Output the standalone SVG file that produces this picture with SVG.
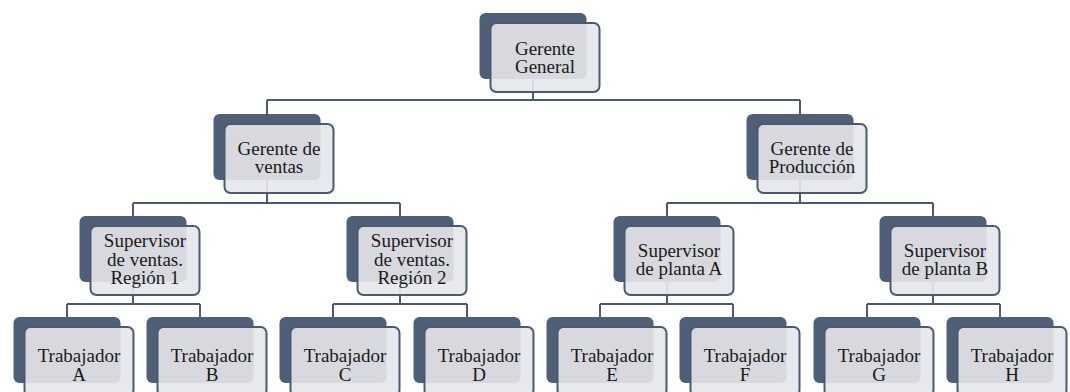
<svg xmlns="http://www.w3.org/2000/svg" width="1070" height="392" viewBox="0 0 1070 392">
<style>
.bg{fill:#ffffff}
.back{fill:#4f5f78}
.front{fill:#e6e7ea;fill-opacity:0.9;stroke:#4b5a70;stroke-width:2}
.conn{fill:none;stroke:#4b5a70;stroke-width:2}
text{font-family:"Liberation Serif","Times New Roman",serif;font-size:19px;fill:#1a1a1a;text-anchor:middle}
</style>
<rect class="bg" x="0" y="0" width="1070" height="392"/>
<g id="connectors">
<path class="conn" d="M533 80V100M267 100H800M267 100V114M800 100V114"/>
<path class="conn" d="M267 180V203M133 203H400M133 203V216M400 203V216"/>
<path class="conn" d="M800 180V203M667 203H933M667 203V216M933 203V216"/>
<path class="conn" d="M133 282V304M67 304H200M67 304V317M200 304V317"/>
<path class="conn" d="M400 282V304M333 304H467M333 304V317M467 304V317"/>
<path class="conn" d="M667 282V304M600 304H733M600 304V317M733 304V317"/>
<path class="conn" d="M933 282V304M867 304H1000M867 304V317M1000 304V317"/>
</g>
<g id="gerente-general">
<rect class="back" x="479.5" y="13" width="107" height="66" rx="6"/>
<rect class="front" x="490.5" y="23" width="109" height="69" rx="6"/>
<text x="545" y="55">Gerente</text><text x="545" y="73">General</text>
</g>
<g id="gerente-ventas">
<rect class="back" x="213.5" y="114" width="107" height="66" rx="6"/>
<rect class="front" x="224.5" y="124" width="109" height="69" rx="6"/>
<text x="279" y="155">Gerente de</text><text x="279" y="173">ventas</text>
</g>
<g id="gerente-produccion">
<rect class="back" x="746.5" y="114" width="107" height="66" rx="6"/>
<rect class="front" x="757.5" y="124" width="109" height="69" rx="6"/>
<text x="812" y="155">Gerente de</text><text x="812" y="173">Producción</text>
</g>
<g id="supervisor-region1">
<rect class="back" x="79.5" y="216" width="107" height="66" rx="6"/>
<rect class="front" x="90.5" y="226" width="109" height="69" rx="6"/>
<text x="145" y="247">Supervisor</text><text x="145" y="266">de ventas.</text><text x="145" y="284">Región 1</text>
</g>
<g id="supervisor-region2">
<rect class="back" x="346.5" y="216" width="107" height="66" rx="6"/>
<rect class="front" x="357.5" y="226" width="109" height="69" rx="6"/>
<text x="412" y="247">Supervisor</text><text x="412" y="266">de ventas.</text><text x="412" y="284">Región 2</text>
</g>
<g id="supervisor-planta-a">
<rect class="back" x="613.5" y="216" width="107" height="66" rx="6"/>
<rect class="front" x="624.5" y="226" width="109" height="69" rx="6"/>
<text x="679" y="257">Supervisor</text><text x="679" y="275">de planta A</text>
</g>
<g id="supervisor-planta-b">
<rect class="back" x="879.5" y="216" width="107" height="66" rx="6"/>
<rect class="front" x="890.5" y="226" width="109" height="69" rx="6"/>
<text x="945" y="257">Supervisor</text><text x="945" y="275">de planta B</text>
</g>
<g id="trabajador-a">
<rect class="back" x="13.5" y="317" width="107" height="66" rx="6"/>
<rect class="front" x="24.5" y="327" width="109" height="69" rx="6"/>
<text x="79" y="362">Trabajador</text><text x="79" y="381">A</text>
</g>
<g id="trabajador-b">
<rect class="back" x="146.5" y="317" width="107" height="66" rx="6"/>
<rect class="front" x="157.5" y="327" width="109" height="69" rx="6"/>
<text x="212" y="362">Trabajador</text><text x="212" y="381">B</text>
</g>
<g id="trabajador-c">
<rect class="back" x="279.5" y="317" width="107" height="66" rx="6"/>
<rect class="front" x="290.5" y="327" width="109" height="69" rx="6"/>
<text x="345" y="362">Trabajador</text><text x="345" y="381">C</text>
</g>
<g id="trabajador-d">
<rect class="back" x="413.5" y="317" width="107" height="66" rx="6"/>
<rect class="front" x="424.5" y="327" width="109" height="69" rx="6"/>
<text x="479" y="362">Trabajador</text><text x="479" y="381">D</text>
</g>
<g id="trabajador-e">
<rect class="back" x="546.5" y="317" width="107" height="66" rx="6"/>
<rect class="front" x="557.5" y="327" width="109" height="69" rx="6"/>
<text x="612" y="362">Trabajador</text><text x="612" y="381">E</text>
</g>
<g id="trabajador-f">
<rect class="back" x="679.5" y="317" width="107" height="66" rx="6"/>
<rect class="front" x="690.5" y="327" width="109" height="69" rx="6"/>
<text x="745" y="362">Trabajador</text><text x="745" y="381">F</text>
</g>
<g id="trabajador-g">
<rect class="back" x="813.5" y="317" width="107" height="66" rx="6"/>
<rect class="front" x="824.5" y="327" width="109" height="69" rx="6"/>
<text x="879" y="362">Trabajador</text><text x="879" y="381">G</text>
</g>
<g id="trabajador-h">
<rect class="back" x="946.5" y="317" width="107" height="66" rx="6"/>
<rect class="front" x="957.5" y="327" width="109" height="69" rx="6"/>
<text x="1012" y="362">Trabajador</text><text x="1012" y="381">H</text>
</g>
</svg>
